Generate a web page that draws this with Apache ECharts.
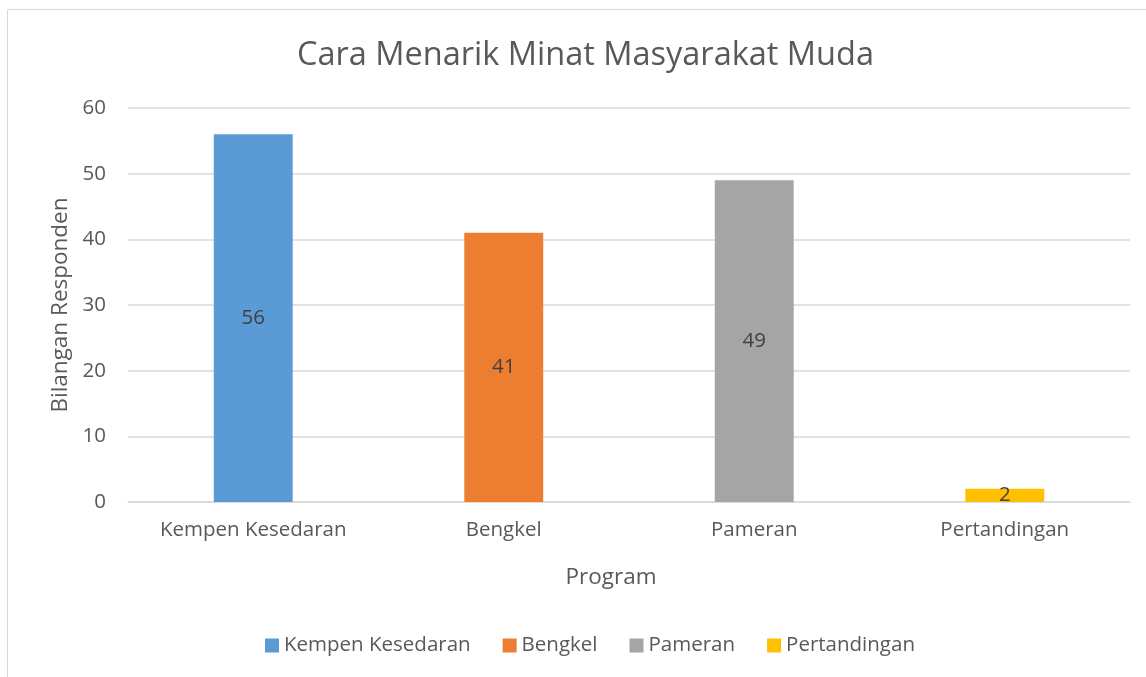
<!DOCTYPE html>
<html>
<head>
<meta charset="utf-8">
<title>Cara Menarik Minat Masyarakat Muda</title>
<script src="https://cdn.jsdelivr.net/npm/echarts@6/dist/echarts.min.js"></script>
<style>
  html, body { margin: 0; padding: 0; background: #fff; }
  #chartId1 { width: 1146px; height: 677px; }
</style>
</head>
<body>
<div id="chartId1"></div>
<script>
// 数据
var categories = ['Kempen Kesedaran', 'Bengkel', 'Pameran', 'Pertandingan'];
var responden = [56, 41, 49, 2];
var barColors = ['#5B9BD5', '#ED7D31', '#A5A5A5', '#FFC000'];
var yTicks = [0, 10, 20, 30, 40, 50, 60];

var fontName = '"Open Sans", "Noto Sans", sans-serif';
var textColor = '#595959';

// one series per category, stacked so every bar sits centred in its slot
var series = [];
for (var i = 0; i < categories.length; i++) {
  var data = [];
  for (var j = 0; j < categories.length; j++) {
    data.push(i == j ? responden[j] : '-');
  }
  series.push({
    name: categories[i],
    type: 'bar',
    stack: 'total',
    barWidth: '31.5%',
    data: data,
    itemStyle: { color: barColors[i] },
    label: {
      show: true,
      position: 'inside',
      color: '#404040',
      fontFamily: fontName,
      fontSize: 20.5,
    },
  });
}

var myChart = echarts.init(document.getElementById('chartId1'));
var option = {
  animation: false,
  textStyle: { fontFamily: fontName },
  graphic: [
    {
      type: 'rect',
      shape: { x: 7.5, y: 9.5, width: 1160, height: 700 },
      style: { fill: 'none', stroke: '#D9D9D9', lineWidth: 1 },
      silent: true,
    },
  ],
  title: {
    text: 'Cara Menarik Minat Masyarakat Muda',
    left: 292,
    top: 34,
    textStyle: { color: textColor, fontSize: 32.5, fontWeight: 'normal', fontFamily: fontName },
  },
  legend: {
    data: categories,
    left: 260,
    top: 630,
    itemWidth: 14,
    itemHeight: 14,
    itemGap: 32,
    icon: 'rect',
    textStyle: { color: textColor, fontSize: 20.5, fontFamily: fontName },
  },
  grid: { left: 128, right: 16, top: 108, bottom: 175 },
  xAxis: {
    type: 'category',
    data: categories,
    name: 'Program',
    nameLocation: 'middle',
    nameGap: 64,
    nameTextStyle: { color: textColor, fontSize: 22.5, fontFamily: fontName, padding: [0, 36, 0, 0] },
    axisLine: { lineStyle: { color: '#D9D9D9', width: 1.5 } },
    axisTick: { show: false },
    axisLabel: { color: textColor, fontSize: 20.5, margin: 18, fontFamily: fontName },
  },
  yAxis: {
    type: 'value',
    min: yTicks[0],
    max: yTicks[yTicks.length - 1],
    interval: 10,
    name: 'Bilangan Responden',
    nameLocation: 'middle',
    nameGap: 56,
    nameRotate: 90,
    nameTextStyle: { color: textColor, fontSize: 22.5, fontFamily: fontName },
    axisLine: { show: false },
    axisTick: { show: false },
    axisLabel: { color: textColor, fontSize: 20.5, margin: 22, fontFamily: fontName },
    splitLine: { lineStyle: { color: '#D9D9D9', width: 1.5 } },
  },
  series: series,
};
myChart.setOption(option);
</script>
</body>
</html>
